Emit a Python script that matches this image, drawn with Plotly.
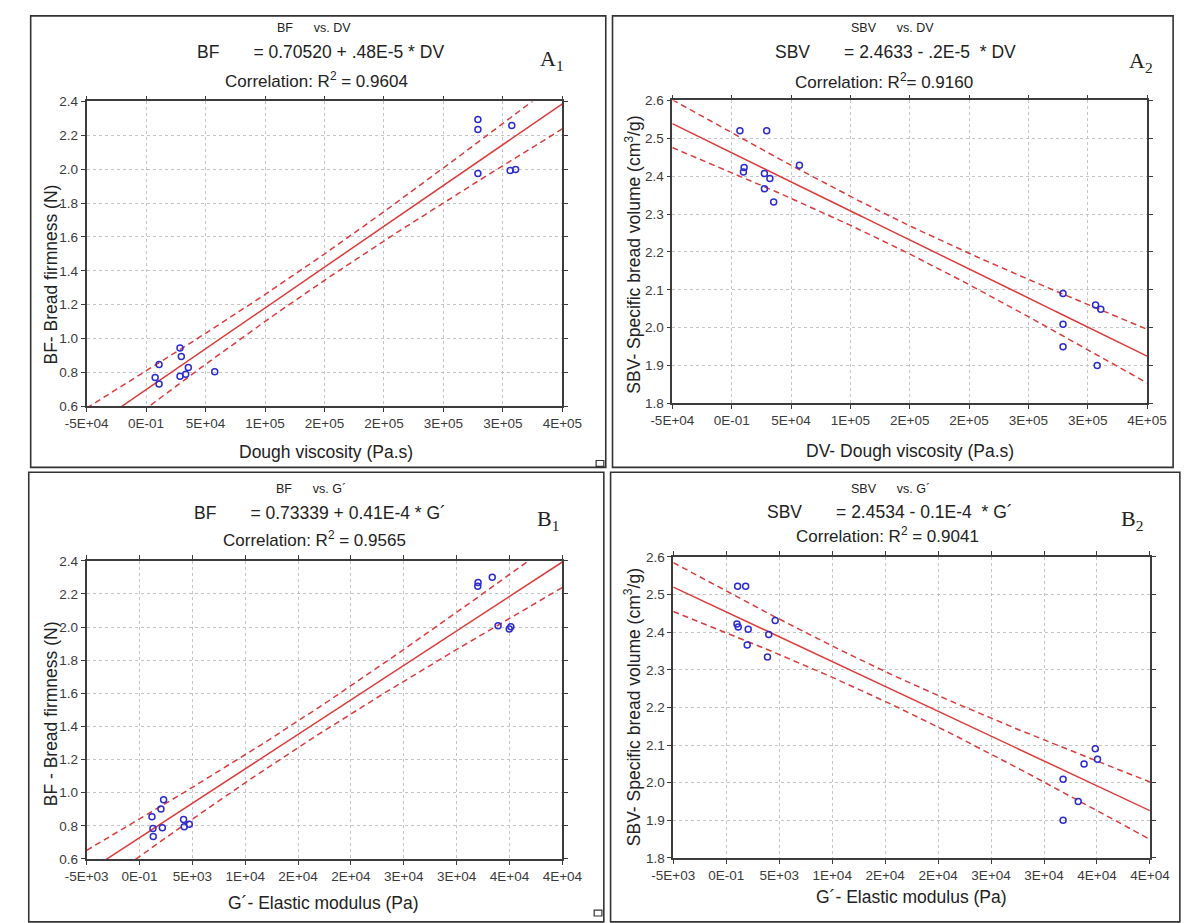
import numpy as np
import plotly.graph_objects as go

W, H = 1196, 923

# ---------------- data ----------------
# A1: BF vs DV
dv_a1 = [279000, 279000, 279000, 307500, 306100, 310700, 28500, 29600, 10900, 7600, 10900, 28500, 33300, 35500, 57700]
bf_a1 = [2.293, 2.235, 1.975, 2.258, 1.992, 1.998, 0.945, 0.895, 0.848, 0.771, 0.732, 0.778, 0.790, 0.829, 0.804]
# A2: SBV vs DV
dv_a2 = [6950, 29500, 10500, 9900, 27600, 32200, 27600, 35400, 57100, 279200, 279200, 279200, 306600, 311000, 308000]
sbv_a2 = [2.520, 2.520, 2.423, 2.411, 2.407, 2.394, 2.367, 2.332, 2.429, 2.090, 2.009, 1.950, 2.060, 2.049, 1.900]
# B1: BF vs G'
g_b1 = [32000, 32030, 33370, 33920, 34980, 35130, 2280, 2030, 1180, 1270, 1300, 2160, 4170, 4230, 4710]
bf_b1 = [2.247, 2.269, 2.301, 2.008, 1.988, 2.002, 0.957, 0.902, 0.854, 0.783, 0.735, 0.789, 0.838, 0.795, 0.809]
# B2: SBV vs G'
g_b2 = [1070, 1830, 1010, 1130, 2070, 1980, 4010, 3890, 4620, 31800, 33230, 31800, 33780, 34840, 35050]
sbv_b2 = [2.522, 2.522, 2.422, 2.414, 2.408, 2.366, 2.394, 2.334, 2.431, 2.009, 1.950, 1.900, 2.050, 2.090, 2.062]

# tick values / labels
dv_ticks = [-50000, 0, 50000, 100000, 150000, 200000, 250000, 300000, 350000]
dv_ticktext = ["-5E+04", "0E-01", "5E+04", "1E+05", "2E+05", "2E+05", "3E+05", "3E+05", "4E+05"]
g_ticks = [-5000, 0, 5000, 10000, 15000, 20000, 25000, 30000, 35000, 40000]
g_ticktext = ["-5E+03", "0E-01", "5E+03", "1E+04", "2E+04", "2E+04", "3E+04", "3E+04", "4E+04", "4E+04"]
bf_ticks = [0.6, 0.8, 1.0, 1.2, 1.4, 1.6, 1.8, 2.0, 2.2, 2.4]
sbv_ticks = [1.8, 1.9, 2.0, 2.1, 2.2, 2.3, 2.4, 2.5, 2.6]
T_CRIT = 2.160  # Student t, 95 %, df = 13

# ---------------- helpers ----------------
def px(x):
    return x / W

def py(y):
    return 1 - y / H

RED = "#dd3b3b"
BLUE = "#2b2bd0"
AX = "#3c3c3c"
FONT = "Liberation Sans, Arial, sans-serif"
SERIF = "Liberation Serif, Times New Roman, serif"

fig = go.Figure()

panels = [
    dict(x=dv_a1, y=bf_a1, xr=[-50000, 350000], yr=[0.6, 2.4], xd=(67, 560), yd=(96, 406),
         xt=(dv_ticks, dv_ticktext), yt=bf_ticks),
    dict(x=dv_a2, y=sbv_a2, xr=[-50000, 350000], yr=[1.8, 2.6], xd=(674, 1166), yd=(95, 403),
         xt=(dv_ticks, dv_ticktext), yt=sbv_ticks),
    dict(x=g_b1, y=bf_b1, xr=[-5000, 40000], yr=[0.6, 2.4], xd=(67, 560), yd=(563, 866),
         xt=(g_ticks, g_ticktext), yt=bf_ticks),
    dict(x=g_b2, y=sbv_b2, xr=[-5000, 40000], yr=[1.8, 2.6], xd=(675, 1169), yd=(559, 865),
         xt=(g_ticks, g_ticktext), yt=sbv_ticks),
]

layout_axes = {}
for i, p in enumerate(panels, start=1):
    xa = "x" if i == 1 else f"x{i}"
    ya = "y" if i == 1 else f"y{i}"
    x = np.array(p["x"], dtype=float)
    y = np.array(p["y"], dtype=float)
    n = len(x)
    b1, b0 = np.polyfit(x, y, 1)
    resid = y - (b0 + b1 * x)
    s = np.sqrt(np.sum(resid ** 2) / (n - 2))
    xm = x.mean()
    sxx = np.sum((x - xm) ** 2)
    xs = np.linspace(p["xr"][0], p["xr"][1], 200)
    fit = b0 + b1 * xs
    hw = T_CRIT * s * np.sqrt(1 / n + (xs - xm) ** 2 / sxx)

    for yy, dash in [(fit + hw, "6px,4px"), (fit - hw, "6px,4px"), (fit, "solid")]:
        fig.add_trace(go.Scatter(x=xs, y=yy, mode="lines", xaxis=xa, yaxis=ya,
                                 line=dict(color=RED, width=1.5, dash=dash),
                                 showlegend=False, hoverinfo="skip"))
    fig.add_trace(go.Scatter(x=x, y=y, mode="markers", xaxis=xa, yaxis=ya,
                             marker=dict(symbol="circle-open", size=6, color=BLUE,
                                         line=dict(width=1.5, color=BLUE)),
                             showlegend=False))

    common = dict(showline=True, linecolor=AX, linewidth=1.6, mirror="ticks",
                  ticks="outside", ticklen=4, tickcolor=AX, tickwidth=1,
                  showgrid=True, gridcolor="#c4c4c4", griddash="dot", gridwidth=1,
                  zeroline=False, tickfont=dict(family=FONT, size=13.5, color="#3a3a3a"))
    layout_axes["xaxis" if i == 1 else f"xaxis{i}"] = dict(
        common, domain=[px(p["xd"][0]), px(p["xd"][1])], range=p["xr"], anchor=ya,
        tickmode="array", tickvals=p["xt"][0], ticktext=p["xt"][1])
    layout_axes["yaxis" if i == 1 else f"yaxis{i}"] = dict(
        common, domain=[py(p["yd"][1]), py(p["yd"][0])], range=p["yr"], anchor=xa,
        tickmode="array", tickvals=p["yt"], ticktext=[f"{v:.1f}" for v in p["yt"]])

NB = "\u00a0"
texts = [
    # text, x px, y px, size, family, angle
    (f"BF{NB*6}vs. DV", 303, 21, 12.5, FONT, 0),
    (f"BF{NB*7}= 0.70520 + .48E-5 * DV", 309, 46, 17.5, FONT, 0),
    ("Correlation: R<sup>2</sup> = 0.9604", 305, 74, 17, FONT, 0),
    ("A<sub>1</sub>", 549, 54, 22, SERIF, 0),
    ("BF- Bread firmness (N)", 30, 272, 17.5, FONT, -90),
    ("Dough viscosity (Pa.s)", 315, 452, 17.5, FONT, 0),

    (f"SBV{NB*6}vs. DV", 902, 21, 12.5, FONT, 0),
    (f"SBV{NB*7}= 2.4633 - .2E-5{NB*2}* DV", 905, 46, 17.5, FONT, 0),
    ("Correlation: R<sup>2</sup>= 0.9160", 893, 75, 17, FONT, 0),
    ("A<sub>2</sub>", 1160, 56, 22, SERIF, 0),
    ("SBV- Specific bread volume (cm<sup>3</sup>/g)", 633, 252, 17.5, FONT, -90),
    ("DV- Dough viscosity (Pa.s)", 920, 451, 17.5, FONT, 0),

    (f"BF{NB*6}vs. G\u00b4", 300, 490, 12.5, FONT, 0),
    (f"BF{NB*7}= 0.73339 + 0.41E-4 * G\u00b4", 309, 514, 17.5, FONT, 0),
    ("Correlation: R<sup>2</sup> = 0.9565", 303, 541, 17, FONT, 0),
    ("B<sub>1</sub>", 545, 521, 22, SERIF, 0),
    ("BF - Bread firmness (N)", 30, 718, 17.5, FONT, -90),
    ("G\u00b4- Elastic modulus (Pa)", 312, 911, 17.5, FONT, 0),

    (f"SBV{NB*6}vs. G\u00b4", 900, 490, 12.5, FONT, 0),
    (f"SBV{NB*7}= 2.4534 - 0.1E-4{NB*2}* G\u00b4", 900, 513, 17.5, FONT, 0),
    ("Correlation: R<sup>2</sup> = 0.9041", 897, 537, 17, FONT, 0),
    ("B<sub>2</sub>", 1150, 521, 22, SERIF, 0),
    ("SBV- Specific bread volume (cm<sup>3</sup>/g)", 633, 712, 17.5, FONT, -90),
    ("G\u00b4- Elastic modulus (Pa)", 922, 905, 17.5, FONT, 0),
]
annotations = []
for t, x0, y0, sz, fam, ang in texts:
    annotations.append(dict(text=t, x=px(x0), y=py(y0), xref="paper", yref="paper",
                            xanchor="center", yanchor="middle", showarrow=False,
                            textangle=ang, font=dict(family=fam, size=sz, color="#222222")))

shapes = []
for (x0, y0, x1, y1) in [(9, 9, 605, 468), (612, 9, 1193, 468), (7, 473, 603, 930), (610, 473, 1200, 930)]:
    shapes.append(dict(type="rect", xref="paper", yref="paper", x0=px(x0), x1=px(x1),
                       y0=py(y1), y1=py(y0), line=dict(color="#333333", width=1.6)))
for (x0, y0) in [(595, 461), (593, 918)]:
    shapes.append(dict(type="rect", xref="paper", yref="paper", x0=px(x0), x1=px(x0 + 8),
                       y0=py(y0 + 6), y1=py(y0), line=dict(color="#333333", width=1.2)))

fig.update_layout(width=W, height=H, margin=dict(l=0, r=0, t=0, b=0),
                  paper_bgcolor="white", plot_bgcolor="white",
                  annotations=annotations, shapes=shapes, showlegend=False, **layout_axes)

fig.write_html("out.html", config={"displayModeBar": False},
               post_script="document.body.style.margin='0';document.body.style.overflow='hidden';")
